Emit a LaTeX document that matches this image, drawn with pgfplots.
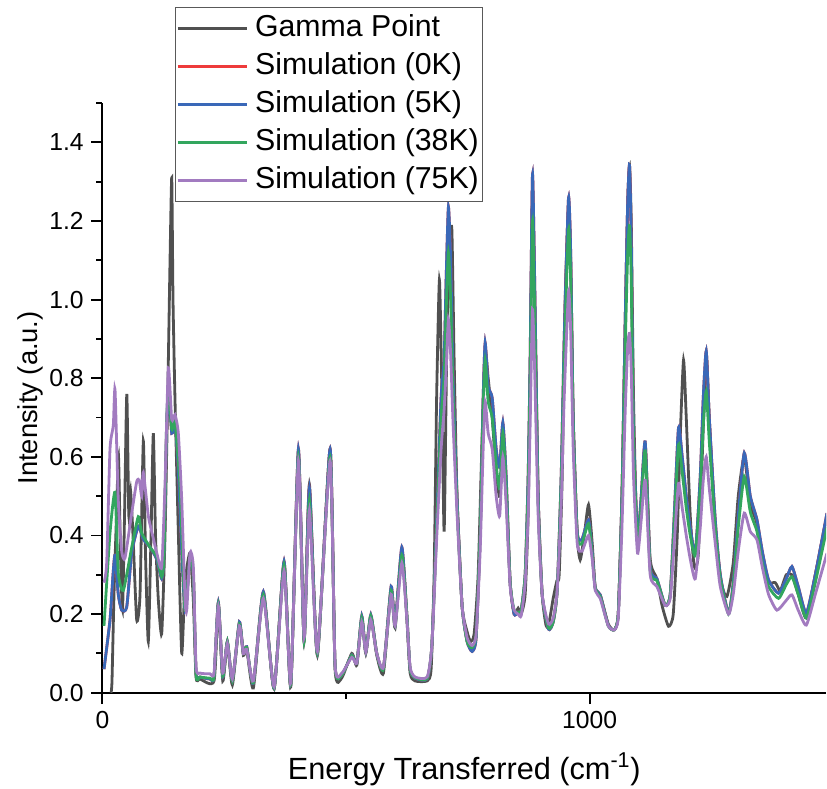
\documentclass[border=0pt]{standalone}
\usepackage{pgfplots}
\pgfplotsset{compat=1.18}
\usepackage{pgfplotstable}
\usepackage{fontspec}
\setmainfont{Liberation Sans}
\definecolor{cgray}{HTML}{505050}
\definecolor{cred}{HTML}{EE3B3B}
\definecolor{cblue}{HTML}{3A68B8}
\definecolor{cgreen}{HTML}{33A65E}
\definecolor{cpurple}{HTML}{A27BC0}

\pgfplotstableread{
x y
17.7 0.0
19.7 0.03
23.8 0.25
28.9 0.45
33.1 0.60
37.2 0.35
41.3 0.21
45.4 0.45
50.1 0.76
54.2 0.45
57.7 0.515
62.8 0.40
70.4 0.185
77.2 0.25
84.0 0.64
88.5 0.35
94.2 0.13
99.8 0.40
104.5 0.66
109.0 0.40
114.8 0.236
121.7 0.15
128.5 0.40
134.7 0.80
138.8 1.10
142.3 1.31
144.9 1.00
149.0 0.745
155.8 0.41
162.8 0.10
169.6 0.28
179.8 0.356
186.6 0.236
192.2 0.04
200.4 0.035
229.1 0.03
237.9 0.225
247.0 0.03
256.4 0.125
266.7 0.02
281.1 0.175
289.3 0.095
296.2 0.11
309.8 0.012
330.3 0.25
352.3 0.01
372.8 0.33
386.6 0.015
402.2 0.61
413.9 0.13
424.8 0.53
441.2 0.095
467.3 0.62
477.5 0.06
491.3 0.038
511.8 0.10
522.1 0.07
532.3 0.185
540.6 0.10
550.8 0.19
563.1 0.095
576.7 0.05
592.5 0.26
600.7 0.165
614.5 0.36
624.7 0.19
631.5 0.05
641.8 0.03
666.4 0.03
674.6 0.06
680.8 0.30
685.9 0.75
691.6 1.05
696.2 0.80
701.3 0.41
706.4 0.85
711.6 1.12
717.1 1.18
721.8 0.85
728.0 0.49
738.2 0.22
748.5 0.155
755.7 0.13
762.9 0.15
771.1 0.30
779.3 0.65
785.5 0.87
791.7 0.80
799.9 0.70
808.1 0.56
815.3 0.50
821.8 0.63
828.6 0.50
836.8 0.28
845.0 0.20
853.2 0.215
859.4 0.20
867.6 0.25
873.7 0.45
877.8 0.80
882.6 1.28
887.1 1.00
894.3 0.50
902.5 0.25
910.7 0.17
916.9 0.18
925.1 0.24
932.7 0.285
937.4 0.30
943.6 0.55
949.7 1.00
956.5 1.24
961.0 1.10
966.2 0.70
974.4 0.40
980.6 0.338
988.8 0.40
997.6 0.478
1005.2 0.38
1011.4 0.267
1021.6 0.249
1038.1 0.175
1050.4 0.16
1058.6 0.20
1066.2 0.50
1073.0 0.95
1078.1 1.25
1081.8 1.34
1085.3 1.20
1090.0 0.75
1096.5 0.42
1103.7 0.45
1114.0 0.63
1124.2 0.34
1138.0 0.29
1148.9 0.22
1161.8 0.169
1171.5 0.20
1179.7 0.40
1185.8 0.65
1192.6 0.846
1198.2 0.70
1206.4 0.45
1214.6 0.32
1222.8 0.35
1231.0 0.60
1239.2 0.86
1245.4 0.70
1257.7 0.42
1270.0 0.28
1281.7 0.245
1294.6 0.33
1304.9 0.50
1317.2 0.60
1329.6 0.48
1343.3 0.43
1356.2 0.32
1366.5 0.28
1380.8 0.28
1391.1 0.26
1403.4 0.30
1415.1 0.30
1428.0 0.25
1444.5 0.19
1463.0 0.30
1487.0 0.45
}\gammatab

\pgfplotstableread{
x y
3.3 0.06
15.6 0.185
21.8 0.30
25.9 0.35
32.6 0.25
39.6 0.21
49.9 0.218
60.2 0.356
73.7 0.423
84.0 0.39
97.7 0.37
111.5 0.34
121.7 0.29
126.5 0.35
132.0 0.68
136.7 0.76
142.3 0.66
149.0 0.68
155.2 0.58
162.8 0.36
169.6 0.21
179.8 0.34
186.6 0.30
192.2 0.05
200.4 0.04
220.9 0.035
229.1 0.04
237.9 0.23
247.0 0.04
256.4 0.13
266.7 0.03
281.1 0.18
289.3 0.10
296.2 0.117
309.8 0.024
330.3 0.257
352.3 0.011
372.8 0.334
386.6 0.02
402.2 0.62
413.9 0.134
424.8 0.52
441.2 0.10
467.3 0.62
477.5 0.07
491.3 0.045
511.8 0.096
522.1 0.075
532.3 0.195
540.6 0.104
550.8 0.198
563.1 0.10
576.7 0.062
592.5 0.27
600.7 0.177
614.5 0.37
624.7 0.20
631.5 0.06
641.8 0.037
666.4 0.035
676.1 0.12
686.3 0.45
695.1 0.75
701.3 0.85
705.4 1.05
710.1 1.235
714.7 1.10
719.8 0.80
728.0 0.49
738.2 0.22
748.5 0.13
758.8 0.105
767.0 0.14
775.2 0.40
781.4 0.75
785.5 0.89
791.7 0.78
799.9 0.75
808.1 0.62
815.3 0.575
821.8 0.687
828.6 0.55
836.8 0.28
845.0 0.20
853.2 0.205
859.4 0.21
867.6 0.30
873.7 0.55
877.8 0.85
882.6 1.318
887.1 1.05
894.3 0.50
902.5 0.25
915.4 0.162
925.1 0.18
933.3 0.26
941.5 0.55
947.7 0.90
956.5 1.258
961.0 1.12
966.2 0.70
974.4 0.41
984.1 0.39
997.6 0.44
1005.2 0.36
1011.4 0.267
1021.6 0.249
1038.1 0.172
1050.4 0.16
1058.6 0.20
1066.2 0.50
1073.0 0.95
1078.1 1.25
1081.8 1.342
1085.3 1.15
1090.0 0.674
1098.2 0.40
1105.8 0.50
1114.0 0.638
1124.2 0.32
1138.0 0.29
1155.0 0.222
1165.3 0.25
1173.5 0.45
1182.3 0.674
1189.9 0.60
1198.2 0.50
1206.4 0.42
1216.7 0.355
1226.9 0.55
1233.1 0.75
1239.2 0.869
1245.4 0.70
1257.7 0.44
1268.0 0.30
1285.0 0.202
1294.6 0.28
1304.9 0.45
1317.2 0.61
1329.6 0.50
1343.3 0.44
1354.2 0.36
1367.1 0.287
1387.6 0.253
1403.4 0.29
1415.1 0.321
1428.0 0.27
1444.5 0.202
1463.0 0.30
1487.0 0.457
}\bluetab

\pgfplotstableread{
x y
3.3 0.17
15.6 0.406
25.9 0.51
32.6 0.305
42.9 0.26
60.2 0.37
73.7 0.448
80.7 0.406
97.7 0.37
111.5 0.346
121.7 0.295
126.5 0.35
132.0 0.70
136.7 0.763
142.3 0.67
149.0 0.687
159.3 0.524
169.6 0.21
179.8 0.346
186.6 0.30
192.2 0.045
200.4 0.04
220.9 0.037
229.1 0.04
237.9 0.225
247.0 0.042
256.4 0.13
266.7 0.03
281.1 0.175
289.3 0.10
296.2 0.115
309.8 0.025
330.3 0.25
352.3 0.012
372.8 0.325
386.6 0.02
402.2 0.60
413.9 0.13
424.8 0.49
441.2 0.10
467.3 0.60
477.5 0.068
491.3 0.045
511.8 0.095
522.1 0.075
532.3 0.19
540.6 0.104
550.8 0.195
563.1 0.10
576.7 0.06
592.5 0.26
600.7 0.17
614.5 0.35
624.7 0.20
631.5 0.06
641.8 0.038
666.4 0.036
676.1 0.12
686.3 0.43
695.1 0.70
701.3 0.80
705.4 0.97
710.1 1.12
714.7 1.00
719.8 0.75
728.0 0.47
738.2 0.22
748.5 0.13
758.8 0.115
767.0 0.15
775.2 0.40
781.4 0.72
785.5 0.845
791.7 0.74
799.9 0.70
808.1 0.58
815.3 0.52
821.8 0.66
828.6 0.53
836.8 0.28
845.0 0.21
853.2 0.205
859.4 0.21
867.6 0.30
873.7 0.52
877.8 0.80
882.6 1.20
887.1 0.97
894.3 0.48
902.5 0.25
915.4 0.165
925.1 0.18
933.3 0.26
941.5 0.53
947.7 0.85
956.5 1.178
961.0 1.05
966.2 0.68
974.4 0.40
984.1 0.38
997.6 0.43
1005.2 0.35
1011.4 0.265
1021.6 0.245
1038.1 0.17
1050.4 0.16
1058.6 0.20
1066.2 0.48
1073.0 0.88
1078.1 1.12
1081.8 1.187
1085.3 1.05
1090.0 0.64
1098.2 0.38
1105.8 0.48
1114.0 0.615
1124.2 0.31
1138.0 0.285
1155.0 0.222
1165.3 0.25
1173.5 0.43
1182.3 0.631
1189.9 0.56
1198.2 0.47
1206.4 0.40
1216.7 0.35
1226.9 0.52
1233.1 0.68
1239.2 0.767
1245.4 0.64
1257.7 0.42
1268.0 0.29
1285.0 0.20
1294.6 0.27
1304.9 0.42
1317.2 0.55
1329.6 0.46
1343.3 0.41
1354.2 0.33
1367.1 0.27
1387.6 0.24
1403.4 0.275
1415.1 0.295
1428.0 0.25
1444.5 0.19
1463.0 0.28
1487.0 0.42
}\greentab

\pgfplotstableread{
x y
3.3 0.28
8.8 0.33
15.6 0.62
22.4 0.68
25.9 0.771
32.6 0.49
39.6 0.36
46.4 0.343
60.2 0.457
70.4 0.537
75.8 0.54
80.7 0.50
84.0 0.56
94.2 0.45
101.2 0.41
111.5 0.356
121.7 0.32
128.5 0.53
135.3 0.826
142.3 0.695
149.0 0.707
155.8 0.66
162.8 0.49
169.6 0.236
173.1 0.21
179.8 0.356
186.6 0.32
192.2 0.066
200.4 0.05
220.9 0.048
229.1 0.05
237.9 0.22
247.0 0.05
256.4 0.125
266.7 0.035
281.1 0.17
289.3 0.10
296.2 0.11
309.8 0.03
330.3 0.24
352.3 0.015
372.8 0.31
386.6 0.025
402.2 0.59
413.9 0.14
424.8 0.465
441.2 0.105
467.3 0.59
477.5 0.07
491.3 0.05
511.8 0.09
522.1 0.075
532.3 0.18
540.6 0.104
550.8 0.185
563.1 0.10
576.7 0.065
592.5 0.25
600.7 0.17
614.5 0.33
624.7 0.19
631.5 0.065
641.8 0.04
666.4 0.04
676.1 0.12
686.3 0.40
695.1 0.62
701.3 0.72
705.4 0.82
710.1 0.95
714.7 0.86
719.8 0.68
728.0 0.45
738.2 0.22
748.5 0.14
758.8 0.12
767.0 0.15
775.2 0.36
781.4 0.62
785.5 0.74
791.7 0.66
799.9 0.62
808.1 0.50
815.3 0.45
821.8 0.60
828.6 0.48
836.8 0.27
845.0 0.21
853.2 0.20
859.4 0.196
867.6 0.28
873.7 0.45
877.8 0.68
882.6 0.975
887.1 0.82
894.3 0.45
902.5 0.25
915.4 0.175
925.1 0.19
933.3 0.26
941.5 0.48
947.7 0.75
956.5 1.019
961.0 0.92
966.2 0.62
974.4 0.38
984.1 0.36
997.6 0.40
1005.2 0.34
1011.4 0.26
1021.6 0.24
1038.1 0.17
1050.4 0.16
1058.6 0.19
1066.2 0.42
1073.0 0.72
1078.1 0.88
1081.8 0.914
1085.3 0.82
1090.0 0.55
1098.2 0.355
1105.8 0.44
1114.0 0.54
1124.2 0.30
1138.0 0.27
1155.0 0.222
1165.3 0.24
1173.5 0.38
1182.3 0.532
1189.9 0.47
1198.2 0.40
1206.4 0.34
1216.7 0.29
1226.9 0.42
1233.1 0.54
1239.2 0.60
1245.4 0.52
1257.7 0.38
1268.0 0.27
1285.0 0.20
1294.6 0.25
1304.9 0.36
1317.2 0.457
1329.6 0.41
1343.3 0.389
1354.2 0.32
1367.1 0.25
1384.3 0.21
1403.4 0.235
1415.1 0.249
1428.0 0.21
1444.5 0.172
1463.0 0.25
1487.0 0.355
}\purpletab

\begin{document}
\begin{tikzpicture}
\begin{axis}[
  name=ax,
  scale only axis,
  width=542.7pt, height=442.3pt,
  xmin=0, xmax=1485, ymin=0, ymax=1.5,
  axis x line*=bottom, axis y line*=left,
  axis line style={line width=1.4pt, -},
  tick align=outside,
  major tick length=8.5pt, minor tick length=4.5pt,
  every tick/.style={black, line width=1.4pt},
  xtick={0,1000}, minor xtick={500},
  ytick={0,0.2,0.4,0.6,0.8,1.0,1.2,1.4},
  minor ytick={0.1,0.3,0.5,0.7,0.9,1.1,1.3,1.5},
  /pgf/number format/assume math mode=true,
  yticklabel style={xshift=-2pt, /pgf/number format/.cd, fixed, fixed zerofill, precision=1},
  xticklabel style={yshift=-2pt, /pgf/number format/1000 sep={}},
  tick label style={font=\fontsize{18.5}{21}\selectfont},
  xlabel style={font=\fontsize{23}{27}\selectfont},
  ylabel style={font=\fontsize{20.5}{24}\selectfont},
  xlabel shift=11pt,
  ylabel shift=-2pt,
  xlabel={Energy Transferred (cm\textsuperscript{-1})},
  ylabel={Intensity (a.u.)},
  legend cell align=left,
  legend style={at={(rel axis cs:0.1003,0.832)}, anchor=south west,
    draw=black!65, line width=0.8pt, inner xsep=1pt, inner ysep=3.5pt,
    font=\fontsize{22.7}{27}\selectfont, row sep=4pt, column sep=3.5pt,
    nodes={inner sep=1.5pt, text height=16.5pt, text depth=5pt}},
  legend image code/.code={\draw[#1, line width=1.7pt] (0pt,0pt) -- (52pt,0pt);},
  every axis plot/.append style={line width=2.1pt, smooth, tension=0.35},
]
\addplot[cgray] table[x=x,y=y] {\gammatab};
\addlegendentry{Gamma Point}
\addplot[cred] table[x=x,y=y] {\bluetab};
\addlegendentry{Simulation (0K)}
\addplot[cblue] table[x=x,y=y] {\bluetab};
\addlegendentry{Simulation (5K)}
\addplot[cgreen] table[x=x,y=y] {\greentab};
\addlegendentry{Simulation (38K)}
\addplot[cpurple] table[x=x,y=y] {\purpletab};
\addlegendentry{Simulation (75K)}
\end{axis}
\pgfresetboundingbox
\path[use as bounding box] ([xshift=-76.8pt,yshift=-71.5pt]ax.south west) rectangle ([xshift=0.75pt,yshift=77.25pt]ax.north east);
\end{tikzpicture}
\end{document}
